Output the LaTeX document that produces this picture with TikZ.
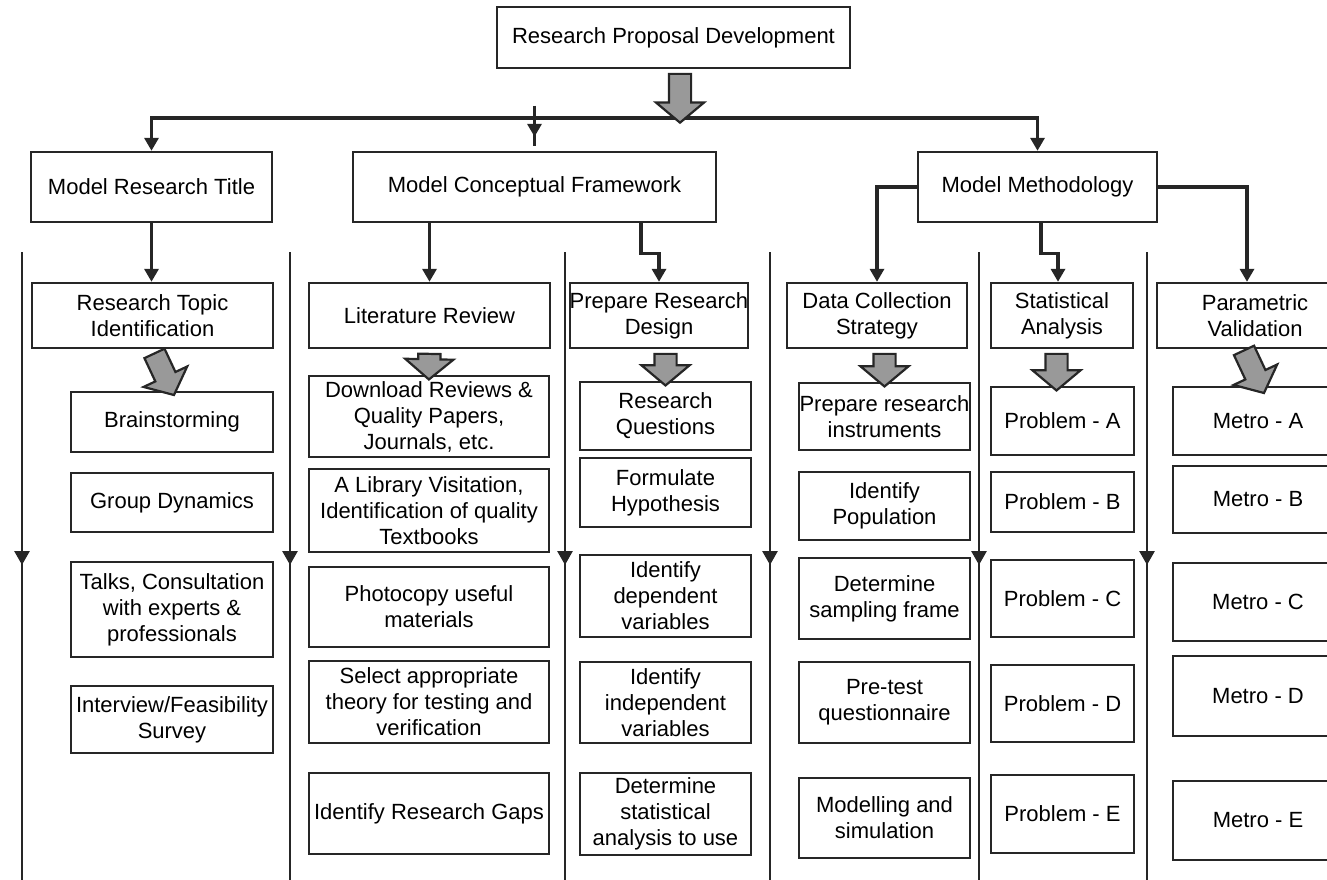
\documentclass[tikz,border=0pt]{standalone}
\usepackage{fontspec}
\setmainfont{Liberation Sans}
\usetikzlibrary{shapes.arrows, arrows.meta, calc}
\tikzset{
    box/.style={rectangle, draw=black!85, line width=1.2pt, align=center, inner sep=0pt, font=\fontsize{11}{13}\selectfont},
    head/.style={box, minimum height=32.5pt},
    colone/.style={box, minimum width=101pt},
    coltwo/.style={box, minimum width=120pt},
    colthree/.style={box, minimum width=85.5pt},
    colfour/.style={box, minimum width=85.5pt},
    colfive/.style={box, minimum width=71.5pt},
    colsix/.style={box, minimum width=85pt},
    line/.style={draw=black!85, line width=1.7pt},
    conn/.style={line, -{Triangle[length=6.5pt,width=7pt]}},
    lane/.style={draw=black!85, line width=1.4pt},
    lanearrow/.style={lane, -{Triangle[length=7pt,width=7.5pt]}},
    fatarrow/.style={single arrow, draw=black!85, line width=1.1pt, fill=black!40, single arrow head extend=6.5pt, single arrow tip angle=100, inner xsep=0pt, inner ysep=5pt}
}
% grey block arrow between two points
\newcommand{\hollowarrow}[3]{%
    \path let \p1=(#2), \p2=(#3), \n1={atan2(\y2-\y1,\x2-\x1)}, \n2={veclen(\x2-\x1,\y2-\y1)} in
        node (#1) [fatarrow, minimum height=\n2, rotate=\n1] at ($(\p1)!0.5!(\p2)$) {};}

\begin{document}
\begin{tikzpicture}[x=0.5pt, y=-0.5pt]
    \useasboundingbox (0,0) rectangle (1327,879);
    \clip (0,0) rectangle (1327,879);

    % top
    \node (top) [box, minimum width=176.5pt, minimum height=30.5pt] at (673.5,37.5) {Research Proposal Development};
    \coordinate (busmid) at (680,118);

    % models
    \node (mrt) [box, minimum width=120.5pt, minimum height=35pt] at (151.5,187) {Model Research Title};
    \node (mcf) [box, minimum width=181.5pt, minimum height=35pt] at (534.5,187) {Model Conceptual Framework};
    \node (mm) [box, minimum width=119.5pt, minimum height=35pt] at (1037.5,187) {Model Methodology};

    % stage heads
    \node (rti) [head, minimum width=120.5pt] at (152.5,315.5) {Research Topic\\Identification};
    \node (lr) [head, minimum width=120.5pt] at (429.5,315.5) {Literature Review};
    \node (prd) [head, minimum width=88pt] at (659,315.5) {Prepare Research\\Design};
    \node (dcs) [head, minimum width=90pt] at (877,315.5) {Data Collection\\Strategy};
    \node (sa) [head, minimum width=71pt] at (1062,315.5) {Statistical\\Analysis};
    \node (pv) [head, minimum width=98pt] at (1255,315.5) {Parametric\\Validation};

    % research title column
    \node (brain) [colone, minimum height=30pt] at (172,422) {Brainstorming};
    \node (group) [colone, minimum height=29.5pt] at (172,502.5) {Group Dynamics};
    \node (talks) [colone, minimum height=47.5pt] at (172,609.5) {Talks, Consultation\\with experts \&\\professionals};
    \node (intv) [colone, minimum height=33.5pt] at (172,719.5) {Interview/Feasibility\\Survey};

    % literature column
    \node (down) [coltwo, minimum height=40.5pt] at (429,416.5) {Download Reviews \&\\Quality Papers,\\Journals, etc.};
    \node (lib) [coltwo, minimum height=41.5pt] at (429,510.5) {A Library Visitation,\\Identification of quality\\Textbooks};
    \node (copy) [coltwo, minimum height=40pt] at (429,607) {Photocopy useful\\materials};
    \node (theory) [coltwo, minimum height=41pt] at (429,702) {Select appropriate\\theory for testing and\\verification};
    \node (gaps) [coltwo, minimum height=40.5pt] at (429,813.5) {Identify Research Gaps};

    % design column
    \node (rq) [colthree, minimum height=34pt] at (665.5,416) {Research\\Questions};
    \node (hyp) [colthree, minimum height=34.5pt] at (665.5,492.5) {Formulate\\Hypothesis};
    \node (dep) [colthree, minimum height=41pt] at (665.5,596) {Identify\\dependent\\variables};
    \node (indep) [colthree, minimum height=40.5pt] at (665.5,702.5) {Identify\\independent\\variables};
    \node (stat) [colthree, minimum height=41pt] at (665.5,814) {Determine\\statistical\\analysis to use};

    % data collection column
    \node (instr) [colfour, minimum height=33.5pt] at (884.5,416.5) {Prepare research\\instruments};
    \node (pop) [colfour, minimum height=34pt] at (884.5,506) {Identify\\Population};
    \node (frame) [colfour, minimum height=40.5pt] at (884.5,598.5) {Determine\\sampling frame};
    \node (pretest) [colfour, minimum height=40.5pt] at (884.5,702.5) {Pre-test\\questionnaire};
    \node (sim) [colfour, minimum height=40pt] at (884.5,818) {Modelling and\\simulation};

    % statistical column
    \node (pa) [colfive, minimum height=34pt] at (1062.5,421) {Problem - A};
    \node (pb) [colfive, minimum height=30pt] at (1062.5,502) {Problem - B};
    \node (pc) [colfive, minimum height=38.5pt] at (1062.5,598.5) {Problem - C};
    \node (pd) [colfive, minimum height=38.5pt] at (1062.5,703.5) {Problem - D};
    \node (pe) [colfive, minimum height=39pt] at (1062.5,814) {Problem - E};

    % validation column
    \node (ma) [colsix, minimum height=34pt] at (1258,421) {Metro - A};
    \node (mb) [colsix, minimum height=33.5pt] at (1258,499.5) {Metro - B};
    \node (mc) [colsix, minimum height=39pt] at (1258,602) {Metro - C};
    \node (md) [colsix, minimum height=40pt] at (1258,696) {Metro - D};
    \node (me) [colsix, minimum height=39.5pt] at (1258,820.5) {Metro - E};

    % connectors
    \draw [conn] (busmid) -| (mrt.north);
    \draw [conn] (busmid) -| (mm.north);
    \draw [line] ($(mcf.north)+(0,-45)$) -- ($(mcf.north)+(0,-5)$);
    \draw [conn] ($(mcf.north)+(0,-45)$) -- ($(mcf.north)+(0,-14)$);
    \draw [conn] (mrt.south) -- (mrt.south |- rti.north);
    \draw [conn] (lr.north |- mcf.south) -- (lr.north);
    \draw [conn] ([xshift=53.25pt]mcf.south) -- ++(0,30) -| (prd.north);
    \draw [conn] (mm.west) -| (dcs.north);
    \draw [conn] ([xshift=1.75pt]mm.south) -- ++(0,30) -| ([xshift=-2pt]sa.north);
    \draw [conn] (mm.east) -| ([xshift=-4pt]pv.north);

    % lanes
    \foreach \lx [count=\i] in {22,290,565,770,979,1147}{
        \coordinate (lane\i) at (\lx,252);
        \draw [lane] (lane\i) -- ++(0,640);
        \draw [lanearrow] (lane\i) -- ++(0,313);
    }

    % block arrows
    \hollowarrow{fa0}{$(top.south)+(6.5,0)$}{busmid}
    \hollowarrow{fa1}{rti.south}{brain.north}
    \hollowarrow{fa2}{lr.south}{down.north}
    \hollowarrow{fa3}{rq.north |- prd.south}{rq.north}
    \hollowarrow{fa4}{instr.north |- dcs.south}{instr.north}
    \hollowarrow{fa5}{$(pa.north |- sa.south)+(-6,0)$}{$(pa.north)+(-6,0)$}
    \hollowarrow{fa6}{$(pv.south)+(-13,-3)$}{$(ma.north)+(4,3)$}
\end{tikzpicture}
\end{document}
